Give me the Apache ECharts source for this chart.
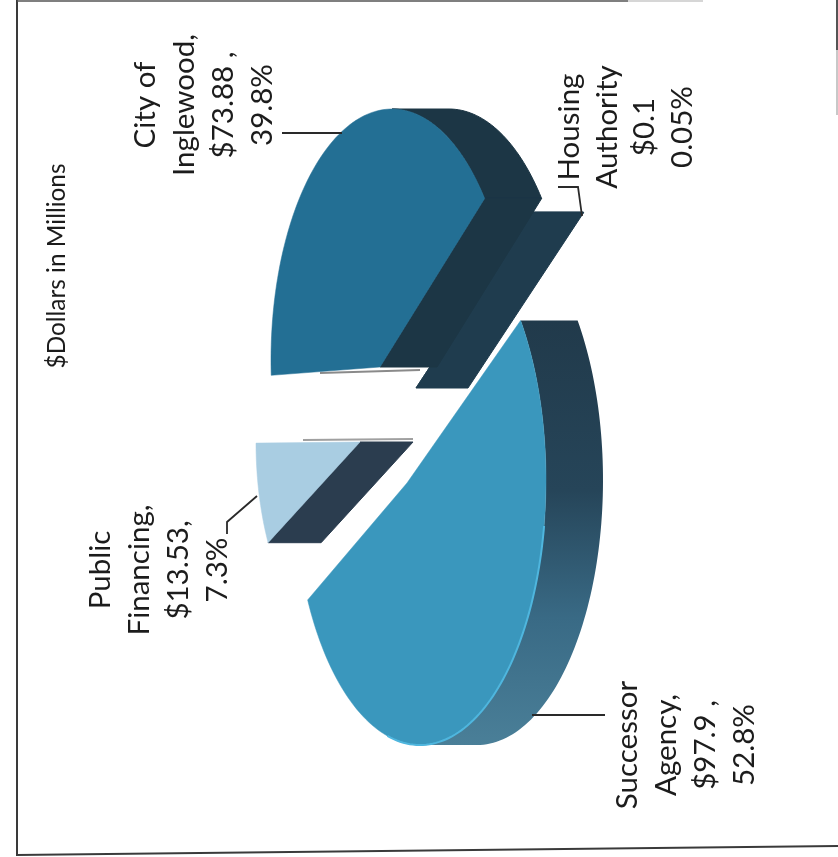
<!DOCTYPE html>
<html><head><meta charset="utf-8">
<style>html,body{margin:0;padding:0;background:#fff}#c{width:838px;height:857px}</style>
<script src="https://cdn.jsdelivr.net/npm/echarts@6/dist/echarts.min.js"></script>
</head><body><div id="c"></div>
<script>
const categories = ['City of Inglewood', 'Housing Authority', 'Successor Agency', 'Public Financing'];
const valuesMillions = [73.88, 0.1, 97.9, 13.53];
const labelLines = [
  ['City of', 'Inglewood,', '$73.88 ,', '39.8%'],
  ['Housing', 'Authority', '$0.1', '0.05%'],
  ['Successor', 'Agency,', '$97.9 ,', '52.8%'],
  ['Public', 'Financing,', '$13.53,', '7.3%']
];
const unitTitle = '$Dollars in Millions';

// Drawing geometry for each slice of the tilted, exploded 3D pie (page is rotated in the source scan)
const sliceStyle = [
  {ax:380,ay:367,cx:392,cy:360,a:121,b:251,start:-3.5,dx:57,edge:'end',  face:'#236f94',wall:'#1c3645',lx:204,ly:105,lh:39.3},
  {ax:416,ay:388,cx:416,cy:388,a:144,b:294,start:143.2,dx:52,edge:'end', face:'#1f3c4e',wall:'#1f3c4e',lx:626,ly:127,lh:37.4},
  {ax:407,ay:483,cx:420,cy:480,a:126,b:265,start:143,dx:57,edge:null,    face:'#3a97bd',wall:'grad',   lx:686,ly:745,lh:39.3},
  {ax:360,ay:442,cx:373,cy:443,a:117,b:225,start:333.7,dx:53,edge:'start',face:'#a9cde2',wall:'#2b3d4f',lx:159,ly:570,lh:39}
];
const leaders = [
  [[282,133],[342,133]],
  [[558,187],[578,187],[582,216]],
  [[532,715],[605,715]],
  [[257,496],[227,522],[227,534]]
];

const total = valuesMillions.reduce((s, v) => s + v, 0);
const rad = d => d * Math.PI / 180;
function rimPoint(g, psi) {
  return [g.cx - g.a * Math.cos(rad(psi)), g.cy - g.b * Math.sin(rad(psi))];
}
function arcPoints(g, from, to) {
  const pts = [], n = Math.max(2, Math.ceil(Math.abs(to - from) / 1.5));
  for (let i = 0; i <= n; i++) pts.push(rimPoint(g, from + (to - from) * i / n));
  return pts;
}
function renderSlice(params, api) {
  const i = api.value(0), g = sliceStyle[i];
  const span = api.value(1) / total * 360;
  const s = g.start, e = g.start + span;
  const kids = [];
  const solidWall = g.wall === 'grad' ? '#213a4b' : g.wall;
  const wallFill = g.wall === 'grad'
    ? new echarts.graphic.LinearGradient(0, 0, 0, 1, [
        {offset:0,color:'#213a4b'},{offset:0.4,color:'#264559'},{offset:0.7,color:'#396a85'},{offset:1,color:'#4a7f98'}])
    : g.wall;
  // Curved wall: only the part of the rim that faces the viewer's near side
  const w0 = Math.max(s, 90), w1 = Math.min(e, 270);
  if (w1 > w0) {
    const front = arcPoints(g, w0, w1);
    const back = front.map(p => [p[0] + g.dx, p[1]]).reverse();
    kids.push({type:'polygon', shape:{points: front.concat(back)},
      style:{fill:wallFill, stroke:g.wall === 'grad' ? null : solidWall, lineWidth:1}});
  }
  // Flat cut wall
  if (g.edge) {
    const r = rimPoint(g, g.edge === 'end' ? e : s);
    kids.push({type:'polygon', shape:{points:[[g.ax,g.ay],r,[r[0]+g.dx,r[1]],[g.ax+g.dx,g.ay]]},
      style:{fill:solidWall, stroke:solidWall, lineWidth:1}});
  }
  // Top face
  kids.push({type:'polygon', shape:{points:[[g.ax,g.ay]].concat(arcPoints(g, s, e))},
    style:{fill:g.face, stroke:g.face, lineWidth:0.5}});
  // Light rim highlight on the largest slice
  if (span > 180) {
    kids.push({type:'polyline', shape:{points:arcPoints(g, Math.max(s,190), Math.min(e,285))},
      style:{stroke:'#4fb6de', fill:null, lineWidth:2}});
  }
  // Leader line
  kids.push({type:'polyline', shape:{points:leaders[i]}, style:{stroke:'#2a2a2a', fill:null, lineWidth:1.8}});
  // Label, reading bottom to top
  kids.push({type:'text', x:g.lx, y:g.ly, rotation:Math.PI/2,
    style:{text:labelLines[i].join('\n'), font:'29.5px Lato', fill:'#1c1c1c',
      align:'center', verticalAlign:'middle', lineHeight:g.lh}});
  return {type:'group', children:kids};
}
const drawOrder = [1, 0, 3, 2];
const chart = echarts.init(document.getElementById('c'), null, {renderer:'canvas'});
const line = (pts, color, w) => ({type:'polyline', shape:{points:pts}, silent:true, style:{stroke:color, fill:null, lineWidth:w}});
chart.setOption({
  animation:false,
  backgroundColor:'#ffffff',
  graphic:[
    line([[17,0],[17,855],[838,846]], '#3a3a3a', 2),
    line([[17,1],[628,1]], '#555555', 1.5),
    line([[628,1],[703,1]], '#c8c8c8', 1.5),
    line([[837,0],[837,50]], '#555555', 2),
    line([[837,50],[837,115]], '#c8c8c8', 2),
    line([[303,440],[413,439]], '#a0a0a0', 2),
    line([[320,373],[420,370]], '#8a8a8a', 2),
    {type:'text', x:57, y:266, rotation:Math.PI/2,
     style:{text:unitTitle, font:'24.4px Lato', fill:'#1c1c1c', align:'center', verticalAlign:'middle'}}
  ],
  series:[{
    type:'custom', coordinateSystem:'none', renderItem:renderSlice, silent:true, clip:false,
    data:drawOrder.map(i => ({name:categories[i], value:[i, valuesMillions[i]]}))
  }]
});
</script></body></html>
